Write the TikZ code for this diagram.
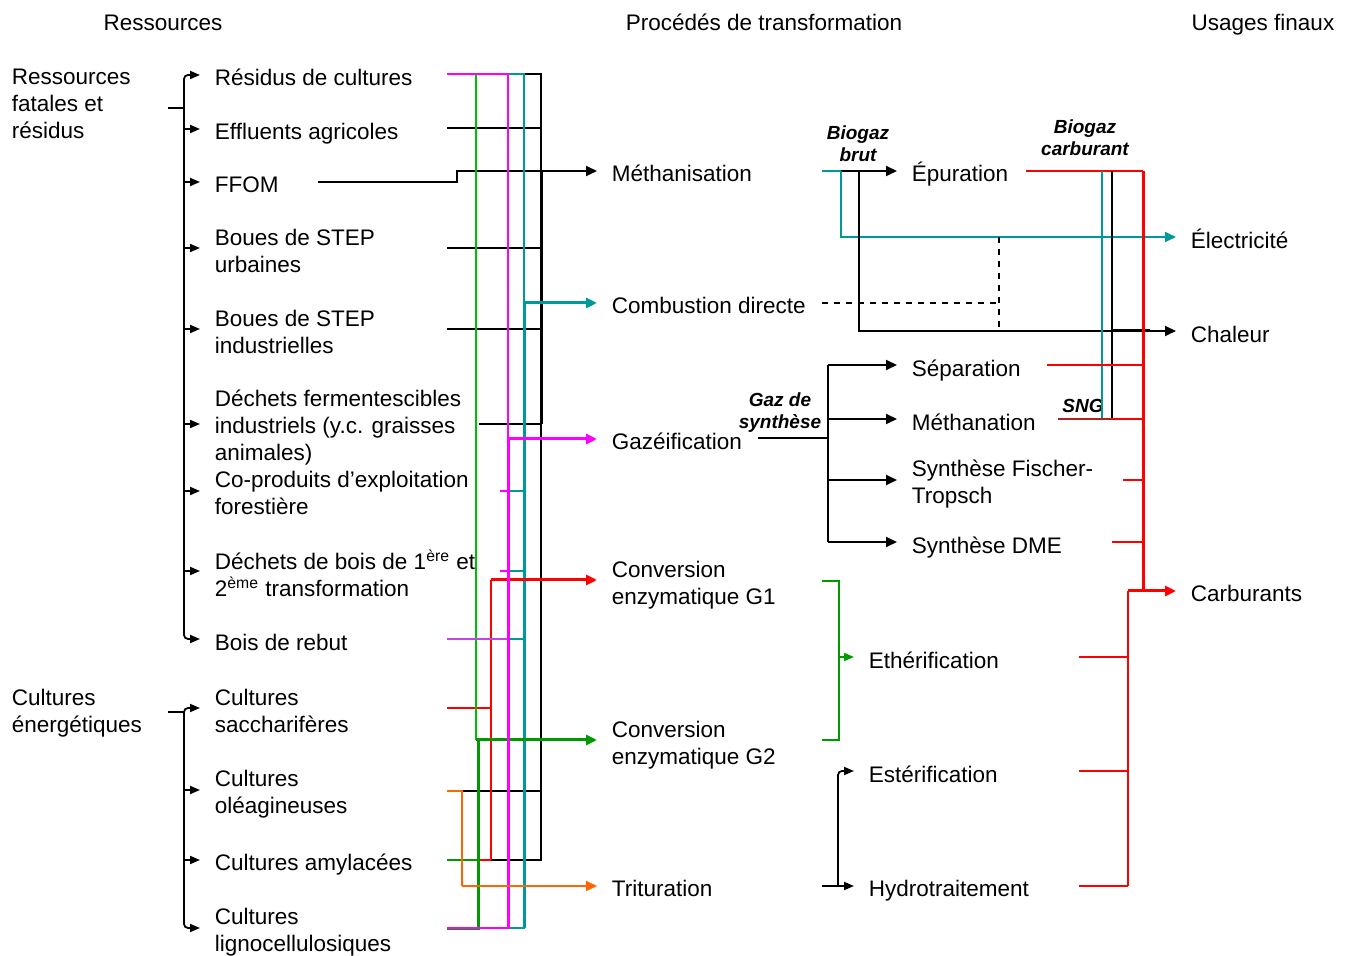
\documentclass[tikz,border=0pt]{standalone}
\usepackage{fontspec}
\setmainfont{Liberation Sans}
\usetikzlibrary{arrows.meta}

\definecolor{cteal}{RGB}{0,153,153}
\definecolor{cmag}{RGB}{255,0,255}
\definecolor{cviolet}{RGB}{190,70,230}
\definecolor{cgreenl}{RGB}{0,190,0}
\definecolor{cgreen}{RGB}{0,153,0}
\definecolor{cred}{RGB}{255,0,0}
\definecolor{cdred}{RGB}{180,30,30}
\definecolor{corange}{RGB}{255,102,0}

\newcommand\mainfs{\fontsize{11.25pt}{13.5pt}\selectfont}
\newcommand\tagfs{\fontsize{9.5pt}{11pt}\selectfont\bfseries\itshape}

\tikzset{
  lbl/.style={inner xsep=7pt, inner ysep=0pt, anchor=west, align=left, font=\mainfs,
              execute at begin node=\strut, execute at end node=\strut},
  grp/.style={lbl, inner xsep=0pt},
  hdr/.style={lbl, anchor=center, inner xsep=0pt, align=center},
  tag/.style={inner sep=0pt, align=center, font=\tagfs,
              execute at begin node=\strut, execute at end node=\strut},
  arr/.style={-{Triangle[length=5.5pt,width=5pt]}},
  sarr/.style={-{Triangle[length=5pt,width=4pt]}},
  tk/.style={line width=1.5pt},
  brk/.style={line width=1.1pt},
}

\begin{document}
\begin{tikzpicture}[x=0.5pt, y=-0.5pt, line width=0.9pt]
\useasboundingbox (0,0) rectangle (1350,956);

% ---------- column headers ----------
\node[hdr] (hRes)  at (163,25.6)  {Ressources};
\node[hdr] (hProc) at (764,25.6)  {Procédés de transformation};
\node[hdr] (hUse)  at (1263,25.6) {Usages finaux};

% ---------- resource groups ----------
\node[grp] (gFat)  at (11,107.6) {Ressources\\fatales et\\résidus};
\node[grp] (gCult) at (11,714.6) {Cultures\\énergétiques};

\node[lbl] (rResid)  at (200,80.1)  {Résidus de cultures};
\node[lbl] (rEffl)   at (200,134.1) {Effluents agricoles};
\node[lbl] (rFFOM)   at (200,187.1) {FFOM};
\node[lbl] (rBouesU) at (200,254.6) {Boues de STEP\\urbaines};
\node[lbl] (rBouesI) at (200,335.6) {Boues de STEP\\industrielles};
\node[lbl] (rDechF)  at (200,429.6) {Déchets fermentescibles\\industriels (y.c. graisses\\animales)};
\node[lbl] (rCoprod) at (200,496.6) {Co-produits d'exploitation\\forestière};
\node[lbl] (rDechB)  at (200,577.6) {Déchets de bois de 1\textsuperscript{ère} et\\2\textsuperscript{ème} transformation};
\node[lbl] (rRebut)  at (200,645.1) {Bois de rebut};
\node[lbl] (rSacch)  at (200,714.6) {Cultures\\saccharifères};
\node[lbl] (rOleag)  at (200,796.1) {Cultures\\oléagineuses};
\node[lbl] (rAmyl)   at (200,865.1) {Cultures amylacées};
\node[lbl] (rLigno)  at (200,933.6) {Cultures\\lignocellulosiques};

% ---------- processes ----------
\node[lbl] (pMeth) at (597,176.1) {Méthanisation};
\node[lbl] (pComb) at (597,308.1) {Combustion directe};
\node[lbl] (pGaz)  at (597,444.1) {Gazéification};
\node[lbl] (pG1)   at (597,586.6) {Conversion\\enzymatique G1};
\node[lbl] (pG2)   at (597,746.6) {Conversion\\enzymatique G2};
\node[lbl] (pTrit) at (597,891.1) {Trituration};

\node[lbl] (pEpur)   at (897,176.1) {Épuration};
\node[lbl] (pSep)    at (897,371.1) {Séparation};
\node[lbl] (pMethan) at (897,425.1) {Méthanation};
\node[lbl] (pFT)     at (897,485.6) {Synthèse Fischer-\\Tropsch};
\node[lbl] (pDME)    at (897,548.1) {Synthèse DME};

\node[lbl] (pEther) at (854,663.1) {Ethérification};
\node[lbl] (pEster) at (854,777.1) {Estérification};
\node[lbl] (pHydro) at (854,891.1) {Hydrotraitement};

% ---------- final uses ----------
\node[lbl] (uElec) at (1176,243.1) {Électricité};
\node[lbl] (uChal) at (1176,337.1) {Chaleur};
\node[lbl] (uCarb) at (1176,596.1) {Carburants};

% ---------- flow tags ----------
\node[tag] (tBrut) at (858,146.7)  {Biogaz\\brut};
\node[tag] (tCarb) at (1085,141.2) {Biogaz\\carburant};
\node[tag] (tSyn)  at (780,414.2)  {Gaz de\\synthèse};
\node[tag] (tSNG)  at (1083,408.2) {SNG};

% ---------- resource brackets ----------
\coordinate (gFatJ)  at (184,108);
\coordinate (gCultJ) at (184,712);
\draw[brk] (168,108) -- (gFatJ);
\draw[brk] (184,100) -- (184,620);
\draw[sarr, rounded corners=2pt] (184,100) -- (184,75) -- (rResid.west |- 0,75);
\draw[sarr] (184,129) -- (rEffl.west |- 0,129);
\draw[sarr] (184,182) -- (rFFOM.west |- 0,182);
\draw[sarr] (184,248) -- (rBouesU.west |- 0,248);
\draw[sarr] (184,329) -- (rBouesI.west |- 0,329);
\draw[sarr] (184,424) -- (rDechF.west |- 0,424);
\draw[sarr] (184,491) -- (rCoprod.west |- 0,491);
\draw[sarr] (184,571) -- (rDechB.west |- 0,571);
\draw[sarr, rounded corners=2pt] (184,620) -- (184,639) -- (rRebut.west |- 0,639);

\draw[brk] (168,712) -- (gCultJ);
\draw[brk] (184,712) -- (184,910);
\draw[sarr, rounded corners=2pt] (184,716) -- (184,708) -- (rSacch.west |- 0,708);
\draw[sarr] (184,790) -- (rOleag.west |- 0,790);
\draw[sarr] (184,860) -- (rAmyl.west |- 0,860);
\draw[sarr, rounded corners=2pt] (184,910) -- (184,928) -- (rLigno.west |- 0,928);

% ---------- black bus: to Méthanisation ----------
\draw (447,74) -- (541,74) -- (541,860) -- (447,860);
\draw (447,128) -- (541,128);
\draw (318,182) -- (457,182) -- (457,171) -- (541,171);
\draw (447,248) -- (541,248);
\draw (447,329) -- (541,329);
\draw (479,424) -- (541,424);
\draw (462,791) -- (541,791);
\draw[tk] (541,171) -- (541,424);
\draw[arr] (541,171) -- (pMeth.west |- 0,171);

% ---------- teal bus: to Combustion directe ----------
\draw[cteal] (447,74) -- (524,74) -- (524,928) -- (447,928);
\draw[cteal] (500,491) -- (524,491);
\draw[cteal] (500,571) -- (524,571);
\draw[cteal] (447,639) -- (524,639);
\draw[cteal, tk] (524,303) -- (524,928);
\draw[cteal, tk, arr] (524,303) -- (pComb.west |- 0,303);

% ---------- red bus: to Conversion G1 ----------
\draw[cred] (447,708) -- (491,708);
\draw[cred] (447,860) -- (491,860);
\draw[cred] (491,860) -- (491,580);
\draw[cred, tk, arr] (491,580) -- (pG1.west |- 0,580);

% ---------- green bus: to Conversion G2 ----------
\draw[cgreenl] (447,74) -- (476,74) -- (476,740);
\draw[cgreen] (447,860) -- (478,860);
\draw[cgreen, tk] (447,928) -- (478,928) -- (478,740);
\draw[cgreen, tk, arr] (476,740) -- (pG2.west |- 0,740);

% ---------- magenta bus: to Gazéification ----------
\draw[cmag] (447,74) -- (508,74) -- (508,928) -- (447,928);
\draw[cmag] (500,491) -- (508,491);
\draw[cmag] (500,571) -- (508,571);
\draw[cviolet] (447,639) -- (508,639);
\draw[cmag, tk] (508,439) -- (508,928);
\draw[cmag, tk, arr] (508,439) -- (pGaz.west |- 0,439);

% ---------- orange: to Trituration ----------
\draw[corange] (447,791) -- (462,791) -- (462,886);
\draw[corange, arr] (462,886) -- (pTrit.west |- 0,886);

% ---------- biogas ----------
\coordinate (bgA) at (841,171);
\coordinate (bgB) at (859,171);
\draw[cteal] (822,171) -- (bgA);
\draw[arr] (bgA) -- (pEpur.west |- 0,171);
\draw[cteal, arr] (bgA) -- (841,237) -- (uElec.west |- 0,237);
\draw[arr] (bgB) -- (859,331) -- (uChal.west |- 0,331);

% combustion (dashed)
\draw[dashed] (822,303) -- (999,303);
\draw[dashed] (999,237) -- (999,331);

% upgraded biogas and SNG
\draw[cred] (1026,171) -- (1143,171);
\draw[cteal] (1102,171) -- (1102,419);
\draw (1112,171) -- (1112,419);
\draw[tk] (1112,331) -- (1150,331);

% ---------- syngas ----------
\coordinate (sgJ) at (828,438);
\draw (758,438) -- (sgJ);
\draw (828,365) -- (828,542);
\draw[arr] (828,365) -- (pSep.west |- 0,365);
\draw[arr] (828,419) -- (pMethan.west |- 0,419);
\draw[arr] (828,480) -- (pFT.west |- 0,480);
\draw[arr] (828,542) -- (pDME.west |- 0,542);

% ---------- fuels collector ----------
\draw[cred] (1047,365) -- (1143,365);
\draw[cdred] (1058,419) -- (1112,419);
\draw[cred] (1112,419) -- (1143,419);
\draw[cred] (1123,480) -- (1143,480);
\draw[cred] (1112,542) -- (1143,542);
\draw[cred, tk] (1143,171) -- (1143,591);
\draw[cred, tk, arr] (1128,591) -- (uCarb.west |- 0,591);
\draw[cred] (1128,591) -- (1128,886);
\draw[cred] (1079,657) -- (1128,657);
\draw[cred] (1079,771) -- (1128,771);
\draw[cred] (1079,886) -- (1128,886);

% ---------- ethers, esters ----------
\draw[cgreen] (822,581) -- (839,581) -- (839,740) -- (822,740);
\draw[cgreen, sarr] (839,657) -- (pEther.west |- 0,657);
\draw[sarr] (822,886) -- (pHydro.west |- 0,886);
\draw[sarr, rounded corners=2pt] (838,886) -- (838,771) -- (pEster.west |- 0,771);

\end{tikzpicture}
\end{document}
